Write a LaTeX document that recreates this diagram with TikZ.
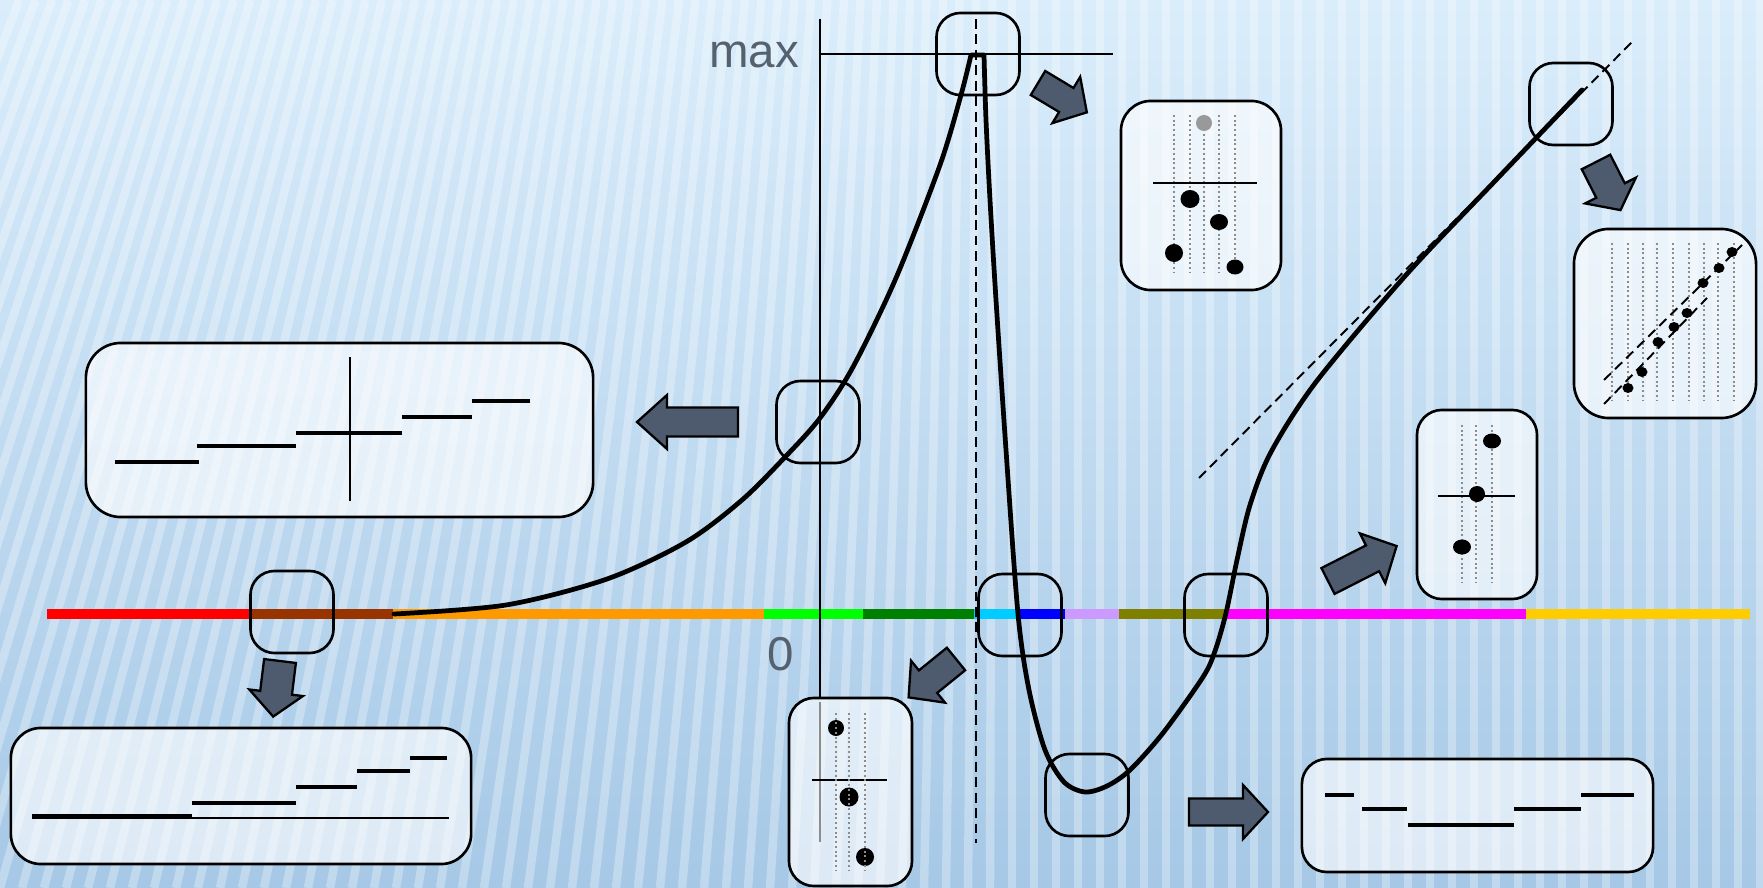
\documentclass[tikz,border=0pt]{standalone}
\usepackage{fontspec}
\setmainfont{Liberation Sans}
\definecolor{bgtop}{HTML}{DAEDFB}
\definecolor{bgbot}{HTML}{A6C8E6}
\definecolor{arrowfill}{HTML}{4E5A6D}
\definecolor{labelgray}{HTML}{56616F}
\definecolor{cRed}{HTML}{FF0000}
\definecolor{cBrown}{HTML}{993300}
\definecolor{cOrange}{HTML}{FF9900}
\definecolor{cLime}{HTML}{00FF00}
\definecolor{cGreen}{HTML}{008000}
\definecolor{cCyan}{HTML}{00CCFF}
\definecolor{cBlue}{HTML}{0000FF}
\definecolor{cLav}{HTML}{CC99FF}
\definecolor{cOlive}{HTML}{808000}
\definecolor{cMag}{HTML}{FF00FF}
\definecolor{cGold}{HTML}{FFCC00}
\tikzset{
 smallbox/.style={draw, line width=0.75pt, rounded corners=0.24cm, minimum width=0.83cm, minimum height=0.82cm, inner sep=0pt},
 detail/.style={draw, line width=0.75pt, fill=white, fill opacity=0.62, inner sep=0pt},
 arrowstyle/.style={draw=black, line width=0.65pt, fill=arrowfill, line join=miter},
 curvestyle/.style={line width=1.35pt, line join=round, line cap=round},
 guide/.style={line width=0.55pt},
 dashguide/.style={line width=0.55pt, dash pattern=on 2.8pt off 1.6pt},
 dotcol/.style={black!45, line width=0.55pt, dash pattern=on 0.55pt off 0.8pt},
 stepline/.style={line width=1.4pt},
 barseg/.style={line width=2.9pt},
 lbl/.style={text=labelgray, font=\fontsize{13.5}{16}\selectfont, inner sep=0pt},
}
% block arrow: #1 tail point, #2 angle, #3 length, #4 head length, #5 half shaft width, #6 half head width
\newcommand\blockarr[6]{\draw[arrowstyle, shift={#1}, rotate=#2] (0,-#5) -- ({#3-#4},-#5) -- ({#3-#4},-#6) -- (#3,0) -- ({#3-#4},#6) -- ({#3-#4},#5) -- (0,#5) -- cycle;}
\begin{document}
\begin{tikzpicture}[x=0.01cm,y=-0.01cm]
\useasboundingbox (0,0) rectangle (1763,888);
% background
\shade[top color=bgtop, bottom color=bgbot] (0,0) rectangle (1763,888);
\begin{scope}
\clip (0,0) rectangle (1763,888);
\foreach \i in {-14,...,81} {
  \pgfmathsetmacro\xb{\i*22}
  \pgfmathsetmacro\xt{\xb+max(0,250*(1-\xb/1000))}
  \draw[white, opacity=0.3, line width=2.4pt] (\xb,888) -- (\xt,0);
}
\end{scope}
% colour bar
\draw[barseg, cRed] (47,614) -- (251,614);
\draw[barseg, cBrown] (250,614) -- (394,614);
\draw[barseg, cOrange] (393,614) -- (765,614);
\draw[barseg, cLime] (764,614) -- (864,614);
\draw[barseg, cGreen] (863,614) -- (975,614);
\draw[barseg, cCyan] (974,614) -- (1021,614);
\draw[barseg, cBlue] (1020,614) -- (1066,614);
\draw[barseg, cLav] (1065,614) -- (1120,614);
\draw[barseg, cOlive] (1119,614) -- (1226,614);
\draw[barseg, cMag] (1225,614) -- (1527,614);
\draw[barseg, cGold] (1526,614) -- (1750,614);
% axes and guides
\draw[guide] (820,19) -- (820,698);
\draw[guide] (820,54) -- (1113,54);
\draw[dashguide] (976,19) -- (976,843);
\draw[dashguide] (1199,478) -- (1632,42);
% curve
\draw[curvestyle] plot[smooth, tension=0.5] coordinates {(394,614) (506,605) (607,579) (686,542) (742,500) (787,455) (820,418) (853,367) (896,278) (940,165) (961,95) (971,55)}
 -- plot[smooth, tension=0.5] coordinates {(984,55) (986,120) (990,200) (996,300) (1006,450) (1018,614) (1029,690) (1045,750) (1064,782) (1085,792) (1107,786) (1130,770) (1163,733) (1203,677) (1215,651) (1226,613) (1237,560) (1250,505) (1271,452) (1316,382) (1406,275) (1495,181) (1582,90)};
% small boxes
\node[smallbox] (bTop) at (978,54) {};
\node[smallbox] (bAxis) at (818,422) {};
\node[smallbox] (bBrown) at (292,612) {};
\node[smallbox] (bCyan) at (1020,615) {};
\node[smallbox] (bMin) at (1087,795) {};
\node[smallbox] (bOlive) at (1226,615) {};
\node[smallbox] (bTR) at (1571,104) {};
% arrows
\blockarr{(738,422)}{180}{101}{30}{14.5}{27}
\blockarr{(1189,812)}{0}{79}{25}{13.5}{27}
\blockarr{(1038,83)}{-31}{57}{24}{14}{27}
\blockarr{(1596,162)}{-63}{54}{22}{16}{28.5}
\blockarr{(1328,581)}{27}{77}{27}{14.5}{28}
\blockarr{(280,661)}{-97}{56}{24}{16}{27}
\blockarr{(956,659)}{-141}{61}{25}{14.5}{27}
% detail box A (top centre)
\node[detail, rounded corners=0.3cm, minimum width=1.6cm, minimum height=1.89cm] (dA) at (1201,195.5) {};
\foreach \xx in {1174,1190,1204,1219,1235} \draw[dotcol] (\xx,115) -- (\xx,272);
\draw[line width=0.8pt] (1153,183) -- (1257,183);
\fill[black!40] (1204,123) circle [radius=0.08cm];
\fill (1190,199) ellipse [x radius=0.095cm, y radius=0.09cm];
\fill (1219,222) ellipse [x radius=0.09cm, y radius=0.08cm];
\fill (1174,253) ellipse [x radius=0.09cm, y radius=0.09cm];
\fill (1235,267) ellipse [x radius=0.085cm, y radius=0.075cm];
% detail box B (top right)
\node[detail, rounded corners=0.35cm, minimum width=1.82cm, minimum height=1.89cm] (dB) at (1665,323.5) {};
\foreach \xx in {1612,1628,1643,1657,1673,1689,1704,1718,1734} \draw[dotcol] (\xx,243) -- (\xx,400);
\draw[dashguide] (1604,380) -- (1742,245);
\draw[dashguide] (1604,404) -- (1707,298);
\foreach \p in {(1732,252),(1719,268),(1703,283),(1687,313),(1674,327),(1658,342),(1642,372),(1628,388)} \fill \p ellipse [x radius=0.055cm, y radius=0.05cm];
% detail box C (right middle)
\node[detail, rounded corners=0.25cm, minimum width=1.2cm, minimum height=1.89cm] (dC) at (1477,504.5) {};
\foreach \xx in {1462,1476,1492} \draw[dotcol] (\xx,425) -- (\xx,582);
\draw[line width=0.8pt] (1438,496) -- (1515,496);
\fill (1492,441) ellipse [x radius=0.09cm, y radius=0.075cm];
\fill (1477,494) circle [radius=0.08cm];
\fill (1462,547) ellipse [x radius=0.09cm, y radius=0.075cm];
% detail box D (bottom centre)
\node[detail, rounded corners=0.25cm, minimum width=1.23cm, minimum height=1.88cm] (dD) at (850.5,792) {};
\draw[black!45, line width=0.8pt] (820,702) -- (820,842);
\draw[line width=0.8pt] (812,780) -- (887,780);
\fill (836,728) circle [radius=0.08cm];
\fill (849,797) circle [radius=0.095cm];
\fill (865,857) circle [radius=0.09cm];
\foreach \xx in {836,849,865} \draw[dotcol] (\xx,713) -- (\xx,870);
% detail box E (left middle)
\node[detail, rounded corners=0.35cm, minimum width=5.07cm, minimum height=1.74cm] (dE) at (339.5,430) {};
\draw[line width=0.6pt] (350,357) -- (350,501);
\draw[stepline] (115,462) -- (199,462);
\draw[stepline] (197,446) -- (296,446);
\draw[stepline] (296,433) -- (402,433);
\draw[stepline] (402,417) -- (472,417);
\draw[stepline] (472,401) -- (530,401);
% detail box F (bottom left)
\node[detail, rounded corners=0.3cm, minimum width=4.6cm, minimum height=1.36cm] (dF) at (241,796) {};
\draw[line width=0.6pt] (32,818) -- (449,818);
\draw[stepline] (32,816.5) -- (192,816.5);
\draw[stepline] (192,803) -- (296,803);
\draw[stepline] (296,787) -- (357,787);
\draw[stepline] (357,771) -- (410,771);
\draw[stepline] (410,758) -- (447,758);
% detail box G (bottom right)
\node[detail, rounded corners=0.25cm, minimum width=3.51cm, minimum height=1.13cm] (dG) at (1477.5,815.5) {};
\draw[stepline] (1325,795) -- (1354,795);
\draw[stepline] (1362,809) -- (1407,809);
\draw[stepline] (1408,825) -- (1514,825);
\draw[stepline] (1514,809) -- (1581,809);
\draw[stepline] (1581,795) -- (1634,795);
% labels
\node[lbl] (lmax) at (754,55) {max};
\node[lbl] (lzero) at (781,654) {0};
\end{tikzpicture}
\end{document}
